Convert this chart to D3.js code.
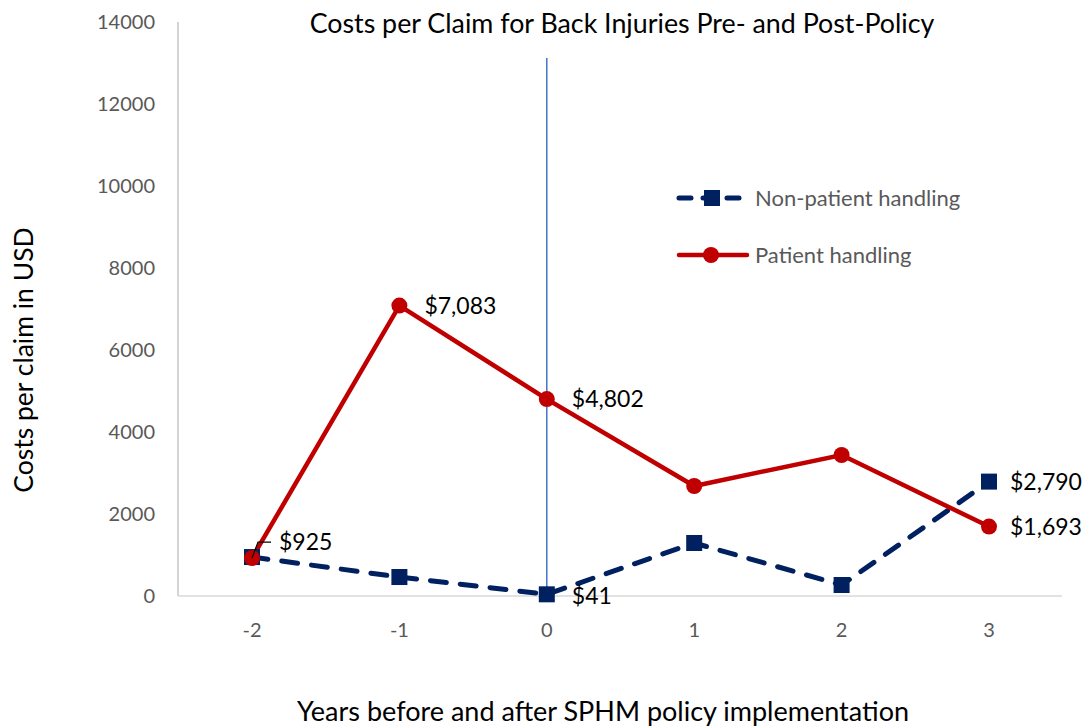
<!DOCTYPE html>
<html><head><meta charset="utf-8">
<script src="https://cdn.jsdelivr.net/npm/d3@7"></script>
<style>body{margin:0;background:#fff;} text{font-family:Lato,"Open Sans",sans-serif;}</style>
</head><body>
<svg id="c" width="1089" height="727"></svg>
<script>
const years = ["-2","-1","0","1","2","3"];
const nonPatient = [950, 463, 41, 1293, 268, 2790];
const patient = [925, 7083, 4802, 2683, 3439, 1693];
const yTicks = [0,2000,4000,6000,8000,10000,12000,14000];
const patientLabels = ["$925","$7,083","$4,802",null,null,"$1,693"];
const nonPatientLabels = [null,null,"$41",null,null,"$2,790"];

const svg = d3.select("#c");
const x = d3.scalePoint().domain(years).range([252, 989]);
const y = d3.scaleLinear().domain([0,14000]).range([596, 22]);

svg.append("line").attr("x1",178).attr("x2",178).attr("y1",22).attr("y2",596).attr("stroke","#bfbfbf").attr("stroke-width",1.3);
svg.append("line").attr("x1",178).attr("x2",1062).attr("y1",596).attr("y2",596).attr("stroke","#d9d9d9").attr("stroke-width",1.3);

svg.selectAll(".yt").data(yTicks).enter().append("text")
  .attr("x",155).attr("y",d=>y(d)).attr("dy","0.35em").attr("text-anchor","end")
  .attr("fill","#595959").attr("font-size",20).text(d=>d);
svg.selectAll(".xt").data(years).enter().append("text")
  .attr("x",d=>x(d)).attr("y",630).attr("dy","0.35em").attr("text-anchor","middle")
  .attr("fill","#595959").attr("font-size",20).text(d=>d);

svg.append("line").attr("x1",x("0")).attr("x2",x("0")).attr("y1",58).attr("y2",596).attr("stroke","#4472C4").attr("stroke-width",1.5);

const line = d3.line().x((d,i)=>x(years[i])).y(d=>y(d));
svg.append("path").datum(nonPatient).attr("d",line).attr("fill","none").attr("stroke","#002060")
  .attr("stroke-width",5).attr("stroke-dasharray","16,14").attr("stroke-linecap","round");
svg.append("path").datum(patient).attr("d",line).attr("fill","none").attr("stroke","#C00000").attr("stroke-width",4.5);

svg.selectAll(".sq").data(nonPatient).enter().append("rect")
  .attr("x",(d,i)=>x(years[i])-8).attr("y",d=>y(d)-8).attr("width",16).attr("height",16).attr("fill","#002060");
svg.selectAll(".ci").data(patient).enter().append("circle")
  .attr("cx",(d,i)=>x(years[i])).attr("cy",d=>y(d)).attr("r",8).attr("fill","#C00000");

const lab = svg.append("g").attr("font-size",23).attr("fill","#000");
patient.forEach((v,i)=>{
  if(!patientLabels[i]) return;
  let dx = 25, dy = 0;
  if(i===0){dx=27; dy=-16;}
  if(i===5){dx=21;}
  lab.append("text").attr("x",x(years[i])+dx).attr("y",y(v)+dy).attr("dy","0.35em").text(patientLabels[i]);
});
nonPatient.forEach((v,i)=>{
  if(!nonPatientLabels[i]) return;
  let dx = 25, dy = 2;
  if(i===5){dx=21; dy=0;}
  lab.append("text").attr("x",x(years[i])+dx).attr("y",y(v)+dy).attr("dy","0.35em").text(nonPatientLabels[i]);
});
svg.append("path").attr("d",`M${x("-2")},${y(patient[0])} L${x("-2")+6},${y(patient[0])-16} L${x("-2")+19},${y(patient[0])-16}`)
  .attr("fill","none").attr("stroke","#000").attr("stroke-width",1.2);

const lg = svg.append("g");
lg.append("line").attr("x1",679).attr("x2",740).attr("y1",198).attr("y2",198).attr("stroke","#002060").attr("stroke-width",5).attr("stroke-dasharray","12,12").attr("stroke-linecap","round");
lg.append("rect").attr("x",704).attr("y",190).attr("width",16).attr("height",16).attr("fill","#002060");
lg.append("text").attr("x",755).attr("y",198).attr("dy","0.35em").attr("font-size",22).attr("fill","#595959").text("Non-patient handling");
lg.append("line").attr("x1",679).attr("x2",747).attr("y1",255).attr("y2",255).attr("stroke","#C00000").attr("stroke-width",4.5).attr("stroke-linecap","round");
lg.append("circle").attr("cx",711).attr("cy",255).attr("r",8).attr("fill","#C00000");
lg.append("text").attr("x",755).attr("y",255).attr("dy","0.35em").attr("font-size",22).attr("fill","#595959").text("Patient handling");

svg.append("text").attr("x",622).attr("y",24).attr("dy","0.35em").attr("text-anchor","middle").attr("font-size",26.8).attr("fill","#000")
  .text("Costs per Claim for Back Injuries Pre- and Post-Policy");
svg.append("text").attr("transform","translate(24,360) rotate(-90)").attr("dy","0.35em").attr("text-anchor","middle").attr("font-size",26.5).attr("fill","#000")
  .text("Costs per claim in USD");
svg.append("text").attr("x",603).attr("y",712).attr("dy","0.35em").attr("text-anchor","middle").attr("font-size",27).attr("fill","#000")
  .text("Years before and after SPHM policy implementation");
</script>
</body></html>
